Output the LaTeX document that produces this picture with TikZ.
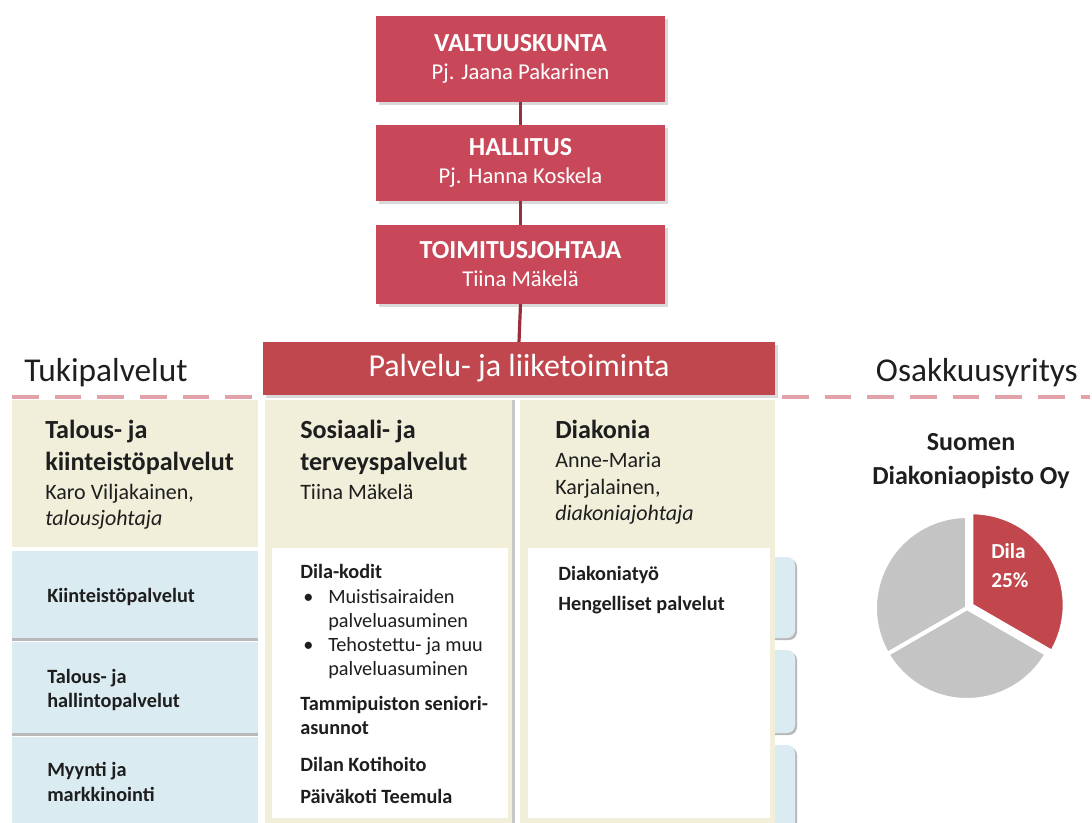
\documentclass[tikz,border=0pt]{standalone}
\usepackage{fontspec}
\setmainfont{Carlito}
\usetikzlibrary{shadows}
\definecolor{boxred}{HTML}{C8485A}
\definecolor{barred}{HTML}{C0474D}
\definecolor{linered}{HTML}{9A2F3B}
\definecolor{cream}{HTML}{F1EFDA}
\definecolor{paleblue}{HTML}{DAEBF1}
\definecolor{dashpink}{HTML}{E2A3A8}
\definecolor{piegray}{HTML}{C4C4C4}
\definecolor{piered}{HTML}{C2474D}
\definecolor{txt}{HTML}{1E1E1E}
\begin{document}
\begin{tikzpicture}[x=0.75pt,y=-0.75pt,
  redbox/.style={fill=boxred, text=white, align=center, inner sep=0pt, outer sep=0pt,
    minimum width=216.75pt, drop shadow={shadow xshift=2pt, shadow yshift=-2pt, opacity=0.3}},
  conn/.style={draw=linered, line width=2.4pt},
  area/.style={inner sep=0pt, outer sep=0pt, anchor=north west},
  creambox/.style={area, fill=cream},
  bluebox/.style={area, fill=paleblue, drop shadow={shadow xshift=0pt, shadow yshift=-2pt, opacity=0.55}},
  whitebox/.style={area, fill=white},
  tab/.style={area, fill=paleblue, rounded corners=6pt, drop shadow={shadow xshift=1.5pt, shadow yshift=-1.5pt, opacity=0.55}},
  dashline/.style={draw=dashpink, line width=3pt, dash pattern=on 20pt off 12pt},
  lbl/.style={anchor=base west, inner sep=0pt, text=txt},
  head/.style={lbl, font=\fontsize{19.6}{22}\selectfont\bfseries},
  sub/.style={lbl, font=\fontsize{16.5}{20}\selectfont},
  item/.style={lbl, font=\fontsize{15.2}{18}\selectfont\bfseries},
  bul/.style={lbl, font=\fontsize{15.2}{18}\selectfont},
  big/.style={inner sep=0pt, text=txt, font=\fontsize{25}{30}\selectfont},
  ttl/.style={font=\fontsize{19.5}{21}\selectfont\bfseries},
  nm/.style={font=\fontsize{17}{21}\selectfont}
]
\useasboundingbox (0,0) rectangle (1092,823);

% ---- top chain ----
\node[redbox, minimum height=64.5pt] (valt) at (520.5,59)
  {{\fontsize{19.5}{21}\selectfont\bfseries VALTUUSKUNTA}\\[9pt]{\fontsize{17}{21}\selectfont Pj. Jaana Pakarinen}};
\node[redbox, minimum height=57pt] (hall) at (520.5,163)
  {{\fontsize{19.5}{21}\selectfont\bfseries HALLITUS}\\[9pt]{\fontsize{17}{21}\selectfont Pj. Hanna Koskela}};
\node[redbox, minimum height=59.25pt] (toim) at (520.5,264.5)
  {{\fontsize{19.5}{21}\selectfont\bfseries TOIMITUSJOHTAJA}\\[9pt]{\fontsize{17}{21}\selectfont Tiina Mäkelä}};

% ---- columns ----
\node[tab, minimum width=30pt, minimum height=60.75pt] (tab1) at (755,557) {};
\node[tab, minimum width=30pt, minimum height=62.25pt] (tab2) at (755,650) {};
\node[tab, minimum width=30pt, minimum height=66pt] (tab3) at (755,745) {};

\node[creambox, minimum width=184.5pt, minimum height=110.25pt] (lcream) at (12,400) {};
\node[bluebox, minimum width=184.5pt, minimum height=65.25pt] (row1) at (12,551) {};
\node[bluebox, minimum width=184.5pt, minimum height=68.25pt] (row2) at (12,642) {};
\node[bluebox, minimum width=184.5pt, minimum height=66pt] (row3) at (12,737) {};

\node[creambox, minimum width=185.25pt, minimum height=318pt,
  drop shadow={shadow xshift=2.5pt, shadow yshift=0pt, opacity=0.45}] (mcream) at (265,400) {};
\node[whitebox, minimum width=177pt, minimum height=202.5pt] (mwhite) at (272,548) {};
\node[creambox, minimum width=191.25pt, minimum height=318pt] (rcream) at (520,400) {};
\node[whitebox, minimum width=181.5pt, minimum height=202.5pt] (rwhite) at (528,548) {};

% ---- bar and dashes ----
\node[fill=barred, text=white, inner sep=0pt, outer sep=0pt, minimum width=384pt, minimum height=39.75pt,
  font=\fontsize{24}{28}\selectfont, drop shadow={shadow xshift=2pt, shadow yshift=-2pt, opacity=0.3}]
  (bar) at (519,368.5) {Palvelu- ja liiketoiminta};
\draw[conn] (valt.south) -- (hall.north);
\draw[conn] (hall.south) -- (toim.north);
\draw[conn] (toim.south) -- (bar.north);

\coordinate (dl1) at (12,397);
\coordinate (dl2) at (263,397);
\coordinate (dr1) at (782,397);
\coordinate (dr2) at (1090,397);
\draw[dashline] (dl1) -- (dl2);
\draw[dashline] (dr1) -- (dr2);
\node[big, anchor=base west] (tuki) at (24,382) {Tukipalvelut};
\node[big, anchor=base east] (osak) at (1078,382) {Osakkuusyritys};

% ---- left column text ----
\node[head] (lh1) at (45,438) {Talous- ja};
\node[head] (lh2) at (45,470) {kiinteistöpalvelut};
\node[sub] (lh3) at (45,499) {Karo Viljakainen,};
\node[sub] (lh4) at (45,525) {\itshape talousjohtaja};
\node[item] (l1) at (47,602) {Kiinteistöpalvelut};
\node[item] (l2a) at (47,683) {Talous- ja};
\node[item] (l2b) at (47,707) {hallintopalvelut};
\node[item] (l3a) at (47,776) {Myynti ja};
\node[item] (l3b) at (47,801) {markkinointi};

% ---- middle column text ----
\node[head] (mh1) at (300,438) {Sosiaali- ja};
\node[head] (mh2) at (300,470) {terveyspalvelut};
\node[sub] (mh3) at (300,499) {Tiina Mäkelä};
\node[item] (m1) at (300,578) {Dila-kodit};
\node[bul] (b1) at (303,603) {•};
\node[bul] (m2a) at (328,603) {Muistisairaiden};
\node[bul] (m2b) at (328,627) {palveluasuminen};
\node[bul] (b2) at (303,651) {•};
\node[bul] (m3a) at (328,651) {Tehostettu- ja muu};
\node[bul] (m3b) at (328,675) {palveluasuminen};
\node[item] (m4a) at (300,710) {Tammipuiston seniori-};
\node[item] (m4b) at (300,734) {asunnot};
\node[item] (m5) at (300,771) {Dilan Kotihoito};
\node[item] (m6) at (300,803) {Päiväkoti Teemula};

% ---- right column text ----
\node[head] (rh1) at (555,438) {Diakonia};
\node[sub] (rh2) at (555,467) {Anne-Maria};
\node[sub] (rh3) at (555,494) {Karjalainen,};
\node[sub] (rh4) at (555,520) {\itshape diakoniajohtaja};
\node[item] (r1) at (558,580) {Diakoniatyö};
\node[item] (r2) at (558,610) {Hengelliset palvelut};

% ---- associated company ----
\node[inner sep=0pt, text=txt, align=center, font=\fontsize{19.5}{26}\selectfont\bfseries]
  (suomen) at (971,461) {Suomen\\Diakoniaopisto Oy};
\coordinate (pc) at (967,608);
\coordinate (pr) at (972,605);
\fill[piegray, draw=white, line width=3pt] (pc) -- ++(30:92) arc[start angle=30, end angle=150, radius=92] -- cycle;
\fill[piegray, draw=white, line width=3pt] (pc) -- ++(150:92) arc[start angle=150, end angle=270, radius=92] -- cycle;
\fill[piered, draw=white, line width=2pt] (pr) -- ++(-90:92) arc[start angle=-90, end angle=30, radius=92] -- cycle;
\node[inner sep=0pt, text=white, align=left, font=\fontsize{16}{22}\selectfont\bfseries, anchor=north west]
  (dila) at (991,543) {Dila\\25\%};
\end{tikzpicture}
\end{document}
